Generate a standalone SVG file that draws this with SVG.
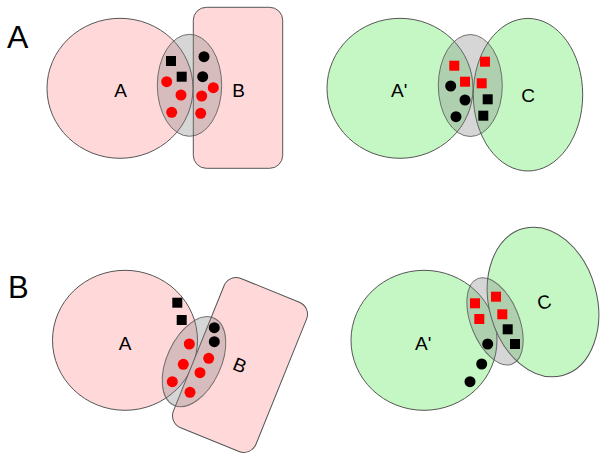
<svg xmlns="http://www.w3.org/2000/svg" width="601" height="453" viewBox="0 0 601 453">
<defs>
<style>
.pink{fill:#ffd9d9;stroke:#555;stroke-width:1}
.green{fill:#c4f7c4;stroke:#555;stroke-width:1}
.gray{fill:#808080;fill-opacity:0.32;stroke:#555;stroke-opacity:0.8;stroke-width:1}
.lbl{font-family:"Liberation Sans",Arial,sans-serif;font-size:19px;fill:#000}
.big{font-family:"Liberation Sans",Arial,sans-serif;font-size:32px;fill:#000}
.r{fill:#ff0000}
.k{fill:#000}
</style>
</defs>
<rect width="601" height="453" fill="#fff"/>

<!-- Panel A -->
<text class="big" x="7" y="48">A</text>
<g id="A1-setA">
<ellipse class="pink" cx="120" cy="88.3" rx="73" ry="70"/>
<text class="lbl" x="120.5" y="96.7" text-anchor="middle">A</text>
</g>
<g id="A1-setB">
<rect class="pink" x="193.3" y="7.3" width="89.4" height="161" rx="13"/>
<text class="lbl" x="238.7" y="96.7" text-anchor="middle">B</text>
</g>
<g id="A1-overlap">
<ellipse class="gray" cx="189.5" cy="85.3" rx="32.2" ry="51"/>
</g>
<g id="A1-items">
<rect class="k" x="166" y="56" width="10" height="10"/>
<rect class="k" x="176.7" y="71.7" width="10" height="10"/>
<circle class="k" cx="204" cy="56.7" r="5.5"/>
<circle class="k" cx="202.7" cy="76.7" r="5.5"/>
<circle class="r" cx="166.7" cy="81.7" r="5.5"/>
<circle class="r" cx="181" cy="95" r="5.5"/>
<circle class="r" cx="171.7" cy="112.3" r="5.5"/>
<circle class="r" cx="201.7" cy="96" r="5.5"/>
<circle class="r" cx="213.3" cy="87.7" r="5.5"/>
<circle class="r" cx="200.7" cy="113.3" r="5.5"/>
</g>

<g id="A2-setA">
<ellipse class="green" cx="400" cy="88.3" rx="73" ry="70"/>
<text class="lbl" x="391" y="96.7">A'</text>
</g>
<g id="A2-setC">
<ellipse class="green" cx="528" cy="94.7" rx="54.7" ry="76.3"/>
<text class="lbl" x="528" y="101.5" text-anchor="middle">C</text>
</g>
<g id="A2-overlap">
<ellipse class="gray" cx="470.3" cy="85.5" rx="32" ry="51"/>
</g>
<g id="A2-items">
<rect class="r" x="449.3" y="60.7" width="10" height="10"/>
<rect class="r" x="460" y="76.7" width="10" height="10"/>
<rect class="r" x="480" y="56.7" width="10" height="10"/>
<rect class="r" x="476.7" y="78.3" width="10" height="10"/>
<circle class="k" cx="450.7" cy="86" r="5.5"/>
<circle class="k" cx="465" cy="100" r="5.5"/>
<circle class="k" cx="456" cy="116.7" r="5.5"/>
<rect class="k" x="482.7" y="94.3" width="10" height="10"/>
<rect class="k" x="478.3" y="110.7" width="10" height="10"/>
</g>

<!-- Panel B -->
<text class="big" x="8" y="298" style="font-size:31px">B</text>
<g id="B1-setA">
<ellipse class="pink" cx="125" cy="340.3" rx="72.5" ry="70"/>
<text class="lbl" x="125" y="349.5" text-anchor="middle">A</text>
</g>
<g id="B1-setB">
<g transform="translate(240 365) rotate(22)">
<rect class="pink" x="-44.5" y="-80.5" width="89" height="161" rx="13"/>
<text class="lbl" x="0" y="7" text-anchor="middle">B</text>
</g>
</g>
<g id="B1-overlap">
<ellipse class="gray" cx="0" cy="0" rx="27" ry="48" transform="translate(194 361.7) rotate(25)"/>
</g>
<g id="B1-items">
<rect class="k" x="172.3" y="297.7" width="10" height="10"/>
<rect class="k" x="176.7" y="315" width="10" height="10"/>
<circle class="k" cx="214.3" cy="327.7" r="5.5"/>
<circle class="k" cx="214.3" cy="341.7" r="5.5"/>
<circle class="r" cx="189.3" cy="344" r="5.5"/>
<circle class="r" cx="183.3" cy="364.3" r="5.5"/>
<circle class="r" cx="172.3" cy="381.7" r="5.5"/>
<circle class="r" cx="208.7" cy="358.3" r="5.5"/>
<circle class="r" cx="200" cy="372.7" r="5.5"/>
<circle class="r" cx="190" cy="392.3" r="5.5"/>
</g>

<g id="B2-setA">
<ellipse class="green" cx="424" cy="340.3" rx="73" ry="70"/>
<text class="lbl" x="415" y="349.5">A'</text>
</g>
<g id="B2-setC">
<g transform="translate(543 302) rotate(-15)">
<ellipse class="green" cx="0" cy="0" rx="54" ry="76"/>
<text class="lbl" x="1" y="7" text-anchor="middle">C</text>
</g>
</g>
<g id="B2-overlap">
<ellipse class="gray" cx="0" cy="0" rx="24" ry="46" transform="translate(495 321.3) rotate(-22)"/>
</g>
<g id="B2-items">
<rect class="r" x="470" y="298.3" width="10" height="10"/>
<rect class="r" x="474.3" y="314" width="10" height="10"/>
<rect class="r" x="491" y="291.7" width="10" height="10"/>
<rect class="r" x="497.3" y="309.3" width="10" height="10"/>
<rect class="k" x="502.7" y="324.3" width="10" height="10"/>
<rect class="k" x="510" y="339" width="10" height="10"/>
<circle class="k" cx="487.7" cy="344" r="5.5"/>
<circle class="k" cx="481.7" cy="364" r="5.5"/>
<circle class="k" cx="470" cy="381.7" r="5.5"/>
</g>
</svg>
